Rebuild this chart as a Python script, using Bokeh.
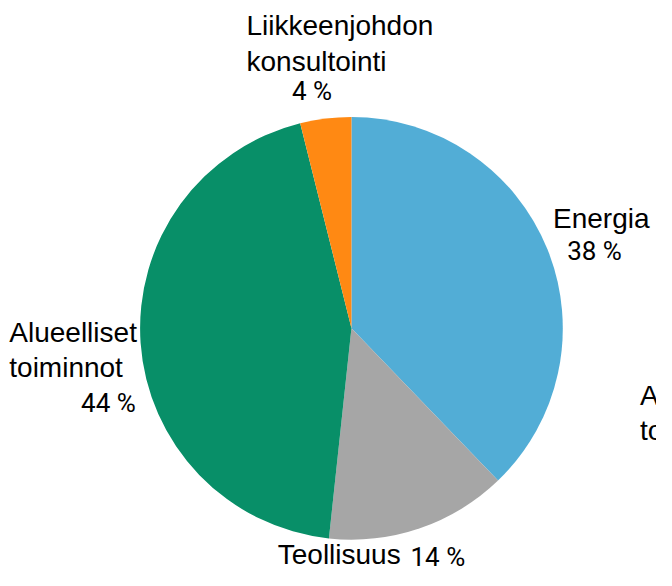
import numpy as np
from bokeh.plotting import figure
from bokeh.models import Range1d, ColumnDataSource
from bokeh.core.properties import value
from bokeh.embed import file_html
from bokeh.resources import INLINE

# data
categories = ["Energia", "Teollisuus", "Alueelliset toiminnot", "Liikkeenjohdon konsultointi"]
shares = [37.8, 13.9, 44.4, 3.9]
pct_labels = [f"{round(s)} %" for s in shares]
colors = ["#52ADD6", "#A6A6A6", "#088F68", "#FF8913"]

# the figure shows the reference's 672x586 pixel frame, scaled to fit the window
W, H = 656, 570
REF_W, REF_H = 672, 586
p = figure(width=W, height=H, output_backend="svg", toolbar_location=None,
           x_range=Range1d(0, REF_W), y_range=Range1d(0, REF_H),
           min_border=0)
p.axis.visible = False
p.grid.visible = False
p.outline_line_color = None
p.background_fill_color = "white"
p.border_fill_color = "white"

cx, cy, r = 359.5, REF_H - 337, 216.5
vals = np.array(shares, dtype=float)
frac = vals / vals.sum()
cum = np.concatenate([[0], np.cumsum(frac)])
start = np.pi / 2 - 2 * np.pi * cum[1:]
end = np.pi / 2 - 2 * np.pi * cum[:-1]
src = ColumnDataSource(dict(start=start, end=end, color=colors))
p.wedge(x=cx, y=cy, radius=r, start_angle="start", end_angle="end",
        color="color", line_color=None, source=src)

# labels (reference pixel coords: left x, baseline y)
FIX = 9  # compensates for the renderer's baseline placement
name_lines = [
    ("Liikkeenjohdon", 252, 35), ("konsultointi", 252, 71.5),
    ("Energia", 566, 233),
    ("Alueelliset", 9, 350), ("toiminnot", 9, 386),
    ("Teollisuus", 284, 579),
    ("A", 655, 415), ("to", 655, 451),
]
pct_pos = [(580.5, 267), (420, 581), (82.5, 423), (298.5, 102)]  # Energia, Teollisuus, Alueelliset, Liikkeenjohdon

p.text(x=[t[1] for t in name_lines], y=[REF_H - t[2] + FIX for t in name_lines],
       text=[t[0] for t in name_lines], text_font=value("Liberation Sans"),
       text_font_size="28px", text_color="#000000",
       text_align="left", text_baseline="alphabetic")
p.text(x=[q[0] for q in pct_pos], y=[REF_H - q[1] + FIX for q in pct_pos],
       text=pct_labels, text_font=value("Roboto"),
       text_font_size="26px", text_color="#000000",
       text_align="left", text_baseline="alphabetic")

open("out.html", "w").write(file_html(p, INLINE))
